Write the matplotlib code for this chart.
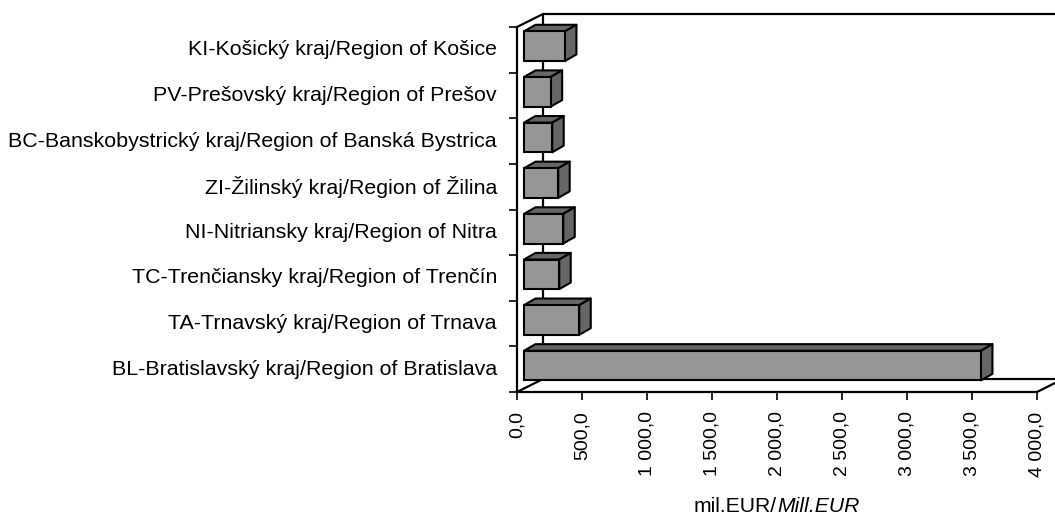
import numpy as np
import matplotlib.pyplot as plt
from matplotlib.patches import Polygon

plt.rcParams['font.family'] = ['Liberation Sans', 'DejaVu Sans']

# data (bottom to top)
regions = [
    'BL-Bratislavský kraj/Region of Bratislava',
    'TA-Trnavský kraj/Region of Trnava',
    'TC-Trenčiansky kraj/Region of Trenčín',
    'NI-Nitriansky kraj/Region of Nitra',
    'ZI-Žilinský kraj/Region of Žilina',
    'BC-Banskobystrický kraj/Region of Banská Bystrica',
    'PV-Prešovský kraj/Region of Prešov',
    'KI-Košický kraj/Region of Košice',
]
values = [3515, 425, 271, 302, 263, 217, 205, 315]
xticks = [0, 500, 1000, 1500, 2000, 2500, 3000, 3500, 4000]
xticklabels = ['0,0', '500,0', '1 000,0', '1 500,0', '2 000,0',
               '2 500,0', '3 000,0', '3 500,0', '4 000,0']

W, H = 1055, 515
fig = plt.figure(figsize=(W / 100, H / 100), dpi=100)
# front plane of the 3D box, in pixels
x0, x1, ytop, ybot = 517, 1037, 27, 392
ax = fig.add_axes([x0 / W, 1 - ybot / H, (x1 - x0) / W, (ybot - ytop) / H])
n = len(values)
xmax = xticks[-1]
ax.set_xlim(0, xmax)
ax.set_ylim(-0.5, n - 0.5)

# pixel -> data conversion for the fake depth
ppx = xmax / (x1 - x0)
ppy = n / (ybot - ytop)


def depth(dx, dy):
    return dx * ppx, dy * ppy


Dx, Dy = depth(26, 13)     # full depth of the box
fx, fy = depth(7, 3.6)     # bar front plane
bx, by = depth(18.5, 10.2) # bar back plane

frame = dict(color='black', lw=1.6, clip_on=False, zorder=1,
             solid_capstyle='round')
yb, yt = -0.5, n - 0.5
# left wall + floor + back wall edges
ax.plot([0, Dx], [yt, yt + Dy], **frame)
ax.plot([Dx, xmax + Dx + 200], [yt + Dy, yt + Dy], **frame)
ax.plot([Dx, Dx], [yb + Dy, yt + Dy], **frame)
ax.plot([0, Dx], [yb, yb + Dy], **frame)
ax.plot([Dx, xmax + Dx], [yb + Dy, yb + Dy], **frame)
ax.plot([xmax, xmax + Dx], [yb, yb + Dy], **frame)

pos = np.arange(n)
hh = 0.325
face, dark = '#969696', '#666666'
ax.barh(pos + fy, values, height=2 * hh, left=fx, color=face,
        edgecolor='black', linewidth=1.5, zorder=3)
for p, v in zip(pos, values):
    top = [(fx, p + hh + fy), (fx + v, p + hh + fy),
           (bx + v, p + hh + by), (bx, p + hh + by)]
    side = [(fx + v, p - hh + fy), (bx + v, p - hh + by),
            (bx + v, p + hh + by), (fx + v, p + hh + fy)]
    for pts in (top, side):
        ax.add_patch(Polygon(pts, closed=True, facecolor=dark,
                             edgecolor='black', lw=1.5, zorder=2.5,
                             joinstyle='round', clip_on=False))

for s in ('top', 'right'):
    ax.spines[s].set_visible(False)
for s in ('left', 'bottom'):
    ax.spines[s].set_linewidth(1.6)
    ax.spines[s].set_zorder(4)

ax.set_yticks(np.arange(n + 1) - 0.5)
ax.set_yticklabels([])
ax.tick_params(axis='y', length=6, width=1.2, direction='out')
for p, lab in zip(pos, regions):
    ax.annotate(lab, xy=(0, p), xycoords=('axes fraction', 'data'),
                xytext=(-20, 0), textcoords='offset pixels',
                ha='right', va='center', fontsize=15.4)

ax.set_xticks(xticks)
ax.set_xticklabels(xticklabels, rotation=90, fontsize=14, va='top')
ax.tick_params(axis='x', length=6, width=1.2, direction='out', pad=8)

ax.annotate('mil.EUR/', xy=(0.5, 0), xycoords='axes fraction',
            xytext=(0, -120), textcoords='offset pixels',
            ha='right', va='baseline', fontsize=15.2)
ax.annotate('Mill.EUR', xy=(0.5, 0), xycoords='axes fraction',
            xytext=(0, -120), textcoords='offset pixels',
            ha='left', va='baseline', fontsize=15.2, style='italic')

fig.savefig('out.png', dpi=100)
